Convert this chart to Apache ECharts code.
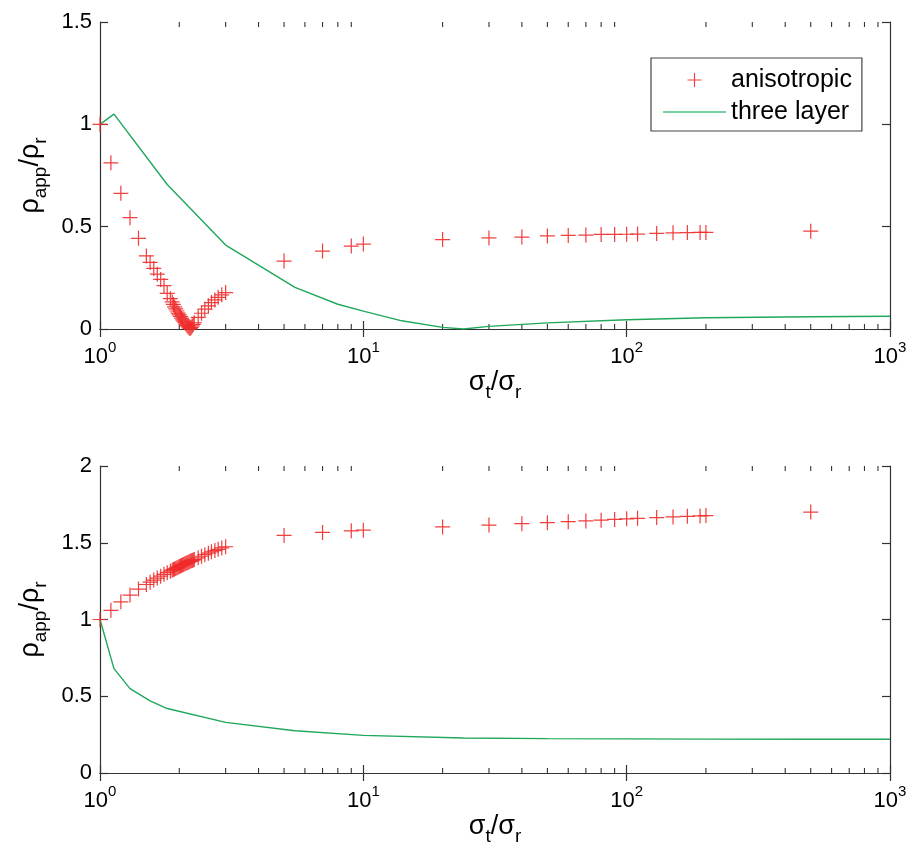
<!DOCTYPE html>
<html>
<head>
<meta charset="utf-8">
<script src="https://cdn.jsdelivr.net/npm/echarts@6/dist/echarts.min.js"></script>
<style>html,body{margin:0;padding:0;background:#fff;}#c{width:920px;height:860px;}</style>
</head>
<body>
<div id="c"></div>
<script>
// ---- data ----
const ratioAniso = [1, 1.1, 1.2, 1.3, 1.4, 1.5, 1.55, 1.6, 1.65, 1.7, 1.75, 1.8,
  1.85, 1.88, 1.9, 1.92, 1.94, 1.96, 1.98, 2.0, 2.02, 2.04, 2.06, 2.08, 2.1, 2.12, 2.14, 2.16, 2.18, 2.2, 2.22, 2.24, 2.26, 2.28,
  2.36, 2.43, 2.5, 2.58, 2.65, 2.73, 2.81, 2.9, 3.0,
  5, 7, 9, 10, 20, 30, 40, 50, 60, 70, 80, 90, 100, 110, 130, 150, 170, 190, 200, 500];
const topAniso = [1.0, 0.812, 0.663, 0.544, 0.443, 0.357, 0.325, 0.296, 0.268, 0.242, 0.212, 0.174,
  0.148, 0.132, 0.12, 0.108, 0.098, 0.088, 0.078, 0.069, 0.061, 0.053, 0.045, 0.038, 0.031, 0.024, 0.017, 0.011, 0.005, 0.002, 0.008, 0.015, 0.022, 0.03,
  0.057, 0.077, 0.097, 0.113, 0.129, 0.142, 0.155, 0.167, 0.178,
  0.332, 0.381, 0.405, 0.415, 0.437, 0.445, 0.449, 0.455, 0.457, 0.459, 0.462, 0.462, 0.463, 0.464, 0.467, 0.470, 0.471, 0.472, 0.472, 0.478];
const bottomAniso = [1.0, 1.06, 1.115, 1.159, 1.198, 1.228, 1.243, 1.257, 1.27, 1.282, 1.294, 1.305,
  1.315, 1.321, 1.325, 1.329, 1.333, 1.337, 1.341, 1.345, 1.349, 1.352, 1.356, 1.359, 1.363, 1.366, 1.369, 1.372, 1.376, 1.379, 1.382, 1.385, 1.388, 1.391,
  1.402, 1.412, 1.422, 1.432, 1.441, 1.449, 1.457, 1.466, 1.474,
  1.548, 1.567, 1.578, 1.582, 1.603, 1.615, 1.624, 1.631, 1.637, 1.642, 1.647, 1.652, 1.656, 1.659, 1.664, 1.668, 1.672, 1.675, 1.677, 1.700];
const ratioLayerTop = [1, 1.13, 1.8, 3, 5.5, 8, 10, 14, 20, 24, 30, 50, 100, 200, 500, 1000];
const topLayer = [1.0, 1.05, 0.706, 0.41, 0.203, 0.121, 0.087, 0.04, 0.008, 0.0, 0.013, 0.03, 0.045, 0.055, 0.06, 0.062];
const ratioLayerBottom = [1, 1.13, 1.3, 1.55, 1.8, 3, 5.5, 10, 24, 50, 100, 200, 500, 1000];
const bottomLayer = [1.0, 0.68, 0.55, 0.47, 0.42, 0.33, 0.275, 0.245, 0.228, 0.224, 0.222, 0.221, 0.22, 0.22];
const minorTicks = [2, 3, 4, 5, 6, 7, 8, 9, 20, 30, 40, 50, 60, 70, 80, 90, 200, 300, 400, 500, 600, 700, 800, 900];

// ---- chart ----
const FONT = 'Liberation Sans, Helvetica, Arial, sans-serif';
const RED = '#f02a2a';
const GREEN = '#1fa85a';
const AXC = '#333';
const plus = 'path://M0,7.35H16V8.65H0Z M7.35,0H8.65V16H7.35Z';
const legendLine = 'path://M0,0H63V1.6H0Z';
const zip = (xs, ys) => xs.map((x, i) => [x, ys[i]]);

const xLabelFmt = v => '{b|10}{s|' + Math.round(Math.log10(v)) + '}';
const xRich = { b: { fontSize: 22, fontFamily: FONT, color: '#000', lineHeight: 34 },
                s: { fontSize: 15, fontFamily: FONT, color: '#000', verticalAlign: 'top', lineHeight: 34 } };
const nameRich = { m: { fontSize: 27, fontFamily: FONT, color: '#000', lineHeight: 40 },
                   s: { fontSize: 19, fontFamily: FONT, color: '#000', verticalAlign: 'bottom', lineHeight: 40 } };

function xAxes(gi) {
  return [{
    type: 'log', logBase: 10, gridIndex: gi, min: 1, max: 1000, interval: 1,
    position: 'bottom',
    axisLine: { show: true, lineStyle: { color: AXC, width: 1.2 } },
    axisTick: { show: true, inside: true, length: 8, lineStyle: { color: AXC, width: 1.2 } },
    minorTick: { show: false }, splitLine: { show: false },
    axisLabel: { formatter: xLabelFmt, rich: xRich, margin: 11 },
    name: '{m|σ}{s|t}{m|/σ}{s|r}', nameLocation: 'middle', nameGap: 20,
    nameTextStyle: { rich: nameRich }
  }, {
    type: 'log', logBase: 10, gridIndex: gi, min: 1, max: 1000, interval: 1,
    position: 'top',
    axisLine: { show: true, lineStyle: { color: AXC, width: 1.2 } },
    axisTick: { show: true, inside: true, length: 8, lineStyle: { color: AXC, width: 1.2 } },
    axisLabel: { show: false }, splitLine: { show: false }
  }];
}
function yAxes(gi, max) {
  return [{
    type: 'value', gridIndex: gi, min: 0, max: max, interval: 0.5, position: 'left',
    axisLine: { show: true, lineStyle: { color: AXC, width: 1.2 } },
    axisTick: { show: true, inside: true, length: 8, lineStyle: { color: AXC, width: 1.2 } },
    splitLine: { show: false },
    axisLabel: { fontSize: 22, fontFamily: FONT, color: '#000', margin: 8 },
    name: '{m|ρ}{s|app}{m|/ρ}{s|r}', nameLocation: 'middle', nameRotate: 90, nameGap: 45,
    nameTextStyle: { rich: nameRich }
  }, {
    type: 'value', gridIndex: gi, min: 0, max: max, interval: 0.5, position: 'right',
    axisLine: { show: true, lineStyle: { color: AXC, width: 1.2 } },
    axisTick: { show: true, inside: true, length: 8, lineStyle: { color: AXC, width: 1.2 } },
    splitLine: { show: false }, axisLabel: { show: false }
  }];
}
function minorSeries(xi, yi) {
  return {
    type: 'custom', xAxisIndex: xi, yAxisIndex: yi, silent: true, z: 1,
    data: minorTicks.map(v => [v, 0]),
    renderItem: (params, api) => {
      const p = api.coord([api.value(0), 0]);
      const cs = params.coordSys;
      const yb = cs.y + cs.height, yt = cs.y;
      const st = { stroke: AXC, lineWidth: 1.1 };
      return { type: 'group', children: [
        { type: 'line', shape: { x1: p[0], y1: yb, x2: p[0], y2: yb - 5 }, style: st },
        { type: 'line', shape: { x1: p[0], y1: yt, x2: p[0], y2: yt + 5 }, style: st }
      ]};
    }
  };
}

const option = {
  animation: false,
  backgroundColor: '#fff',
  textStyle: { fontFamily: FONT },
  grid: [
    { left: 100, top: 22, width: 790, height: 307 },
    { left: 100, top: 466, width: 790, height: 307 }
  ],
  xAxis: [...xAxes(0), ...xAxes(1)],
  yAxis: [...yAxes(0, 1.5), ...yAxes(1, 2)],
  legend: {
    left: 651, top: 58, orient: 'vertical', selectedMode: false,
    backgroundColor: '#fff', borderColor: '#444', borderWidth: 1.2, borderRadius: 0,
    padding: [8, 10, 5, 12], itemGap: 4, itemWidth: 63, itemHeight: 14,
    textStyle: { fontSize: 25, fontFamily: FONT, color: '#000', lineHeight: 28 },
    data: [{ name: 'anisotropic', icon: plus, itemStyle: { color: RED } },
           { name: 'three layer', icon: legendLine, itemStyle: { color: '#4cc07e' } }]
  },
  series: [
    minorSeries(0, 0), minorSeries(2, 2),
    { name: 'anisotropic', type: 'scatter', xAxisIndex: 0, yAxisIndex: 0, symbol: plus, symbolSize: 15,
      itemStyle: { color: RED, opacity: 0.9 }, data: zip(ratioAniso, topAniso), z: 3 },
    { name: 'three layer', type: 'line', xAxisIndex: 0, yAxisIndex: 0, symbol: 'none', showSymbol: false,
      lineStyle: { color: GREEN, width: 1.4 }, itemStyle: { color: GREEN }, data: zip(ratioLayerTop, topLayer), z: 2 },
    { name: 'anisotropic', type: 'scatter', xAxisIndex: 2, yAxisIndex: 2, symbol: plus, symbolSize: 15,
      itemStyle: { color: RED, opacity: 0.9 }, data: zip(ratioAniso, bottomAniso), z: 3 },
    { name: 'three layer', type: 'line', xAxisIndex: 2, yAxisIndex: 2, symbol: 'none', showSymbol: false,
      lineStyle: { color: GREEN, width: 1.4 }, itemStyle: { color: GREEN }, data: zip(ratioLayerBottom, bottomLayer), z: 2 }
  ]
};
const chart = echarts.init(document.getElementById('c'), null, { renderer: 'canvas' });
chart.setOption(option);
</script>
</body>
</html>
